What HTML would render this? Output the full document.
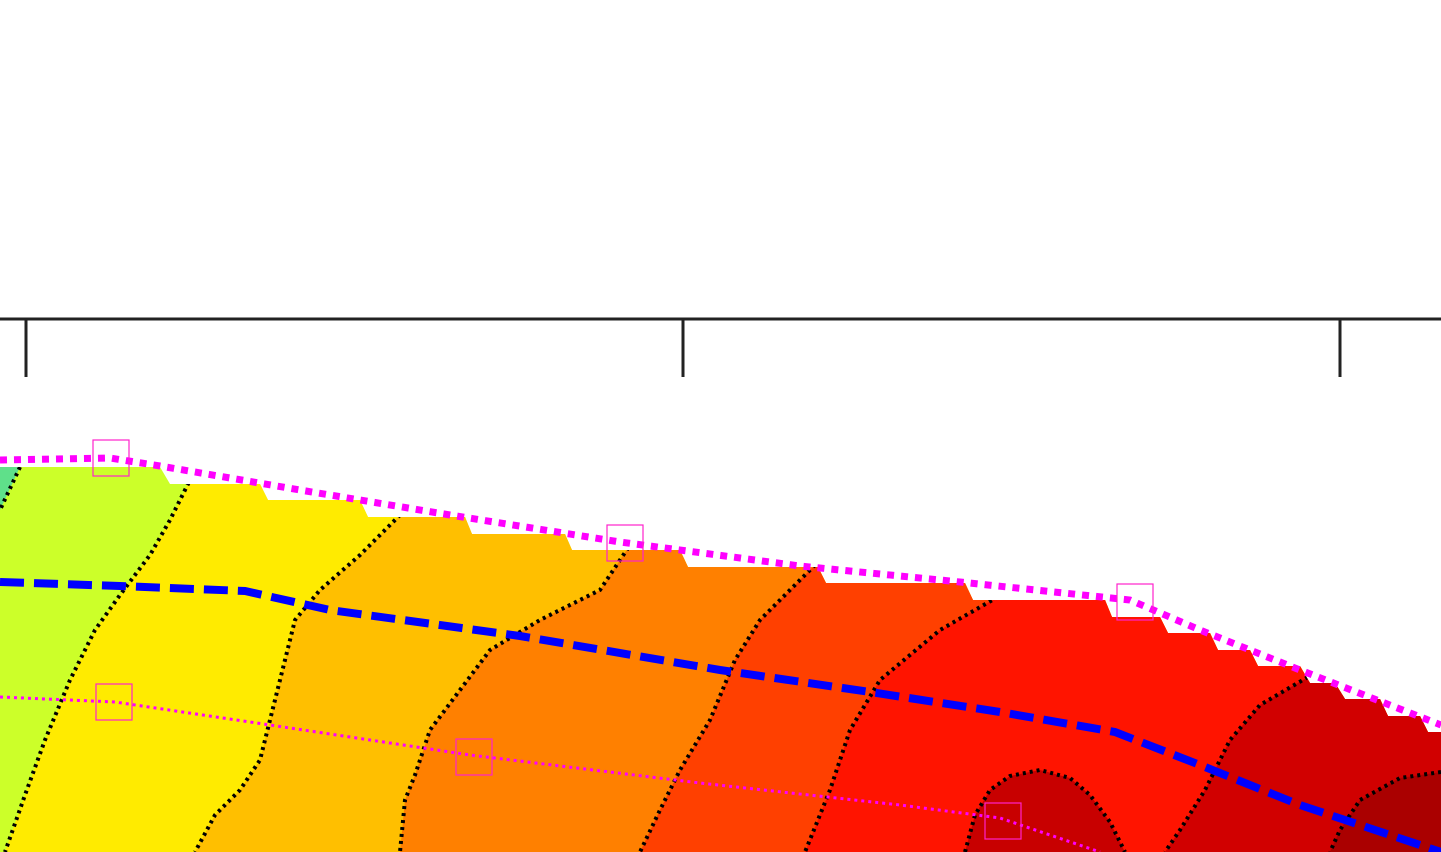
<!DOCTYPE html>
<html><head><meta charset="utf-8"><style>html,body{margin:0;padding:0;background:#fff;width:1441px;height:852px;overflow:hidden}</style></head>
<body>
<svg id="chart" width="1441" height="852" viewBox="0 0 1441 852" xmlns="http://www.w3.org/2000/svg">
<defs><clipPath id="clipTop"><polygon id="topPoly"/></clipPath></defs>
<line x1="0" y1="319" x2="1441" y2="319" stroke="#222" stroke-width="3"/>
<g id="ticks"></g>
<g id="bands" clip-path="url(#clipTop)"></g>
<g id="clines" clip-path="url(#clipTop)"></g>
<g id="lines"></g>
</svg>
<script>
const tickX=[26,683,1340];
const topEdge=[[0,467],[160,467],[170,484],[260,484],[268,500],[360,500],[368,517],[465,517],[472,534],[565,534],[572,550],[680,550],[688,567],[818,567],[826,583],[965,583],[973,600],[1105,600],[1112,617],[1160,617],[1168,633],[1210,633],[1218,650],[1250,650],[1258,666],[1300,666],[1310,683],[1335,683],[1345,699],[1380,699],[1388,716],[1420,716],[1428,732],[1441,732],[1441,852],[0,852]];
const bandColors=["#ccff29","#ffeb00","#ffbf00","#ff8000","#ff4000","#ff1400","#d10000","#aa0000"];
const contours=[
[[195,470],[170,520],[150,555],[120,595],[95,630],[70,680],[45,740],[25,795],[5,852]],
[[415,500],[360,555],[320,590],[295,620],[285,660],[270,720],[260,760],[240,790],[215,815],[195,852]],
[[640,530],[600,590],[540,620],[490,650],[460,690],[430,730],[415,775],[405,800],[400,852]],
[[830,550],[760,620],[735,660],[710,720],[680,770],[660,810],[640,852]],
[[1010,590],[940,630],[880,680],[850,730],[830,790],[805,852]],
[[1320,670],[1260,705],[1230,740],[1205,790],[1180,830],[1165,852]],
[[1441,772],[1400,778],[1360,800],[1340,830],[1330,852]]];
const bump=[[965,852],[975,815],[990,790],[1010,776],[1040,770],[1070,778],[1090,795],[1110,822],[1125,852]];
const blueLine=[[0,582],[120,586],[245,591],[330,610],[520,636],[720,670],[870,692],[1000,712],[1115,732],[1200,765],[1300,805],[1441,852]];
const magTop=[[0,460],[110,458],[160,466],[300,490],[450,515],[620,542],[800,566],[960,582],[1130,600],[1200,630],[1300,670],[1441,725]];
const magLow=[[0,697],[115,702],[250,722],[470,755],[700,783],[900,805],[1000,818],[1100,852]];
const markers=[[111,458],[114,702],[625,543],[474,757],[1135,602],[1003,821]];
const NS="http://www.w3.org/2000/svg";
const pts=a=>a.map(p=>p.join(",")).join(" ");
document.getElementById("topPoly").setAttribute("points",pts(topEdge));
const tk=document.getElementById("ticks");
tickX.forEach(x=>{const l=document.createElementNS(NS,"line");


l.setAttribute("x1",x);l.setAttribute("x2",x);l.setAttribute("y1",319);l.setAttribute("y2",377);l.setAttribute("stroke","#222");l.setAttribute("stroke-width",3);tk.appendChild(l);});
const bands=document.getElementById("bands");
function poly(p,fill,name){const e=document.createElementNS(NS,"polygon");


e.setAttribute("points",pts(p));e.setAttribute("fill",fill);bands.appendChild(e);}
poly([[0,0],[30,0],[30,460],[0,520]],"#5fe08a","band-0");
poly([[20,0],[20,467],[0,510],[0,852],[1441,852],[1441,0]],bandColors[0],"band-1");
contours.forEach((c,i)=>{const p=c.slice();
if(i===contours.length-1){p.push([1441,852]);}else{p.push([1441,852],[1441,0],[c[0][0],0]);}
poly(p,bandColors[i+1],"band-"+(i+2));});
poly(bump,"#c80000","band-bump");
const lg=document.getElementById("lines");
const cl=document.getElementById("clines");
function line(p,stroke,w,dash,name,parent){const e=document.createElementNS(NS,"polyline");


e.setAttribute("points",pts(p));e.setAttribute("fill","none");e.setAttribute("stroke",stroke);e.setAttribute("stroke-width",w);if(dash)e.setAttribute("stroke-dasharray",dash);(parent||lg).appendChild(e);}
line([[20,467],[0,510]],"#000",4,"3 4","contour-line",cl);
contours.forEach(c=>line(c,"#000",4,"3 4","contour-line",cl));
line(bump,"#000",4,"3 4","contour-line",cl);
line(blueLine,"#0000ff",8,"24 10","blue-dashed-line");
line(magTop,"#ff00ff",7,"7 7","magenta-top-line");
line(magLow,"#ff00ff",3,"3 4","magenta-lower-line");
markers.forEach(m=>{const r=document.createElementNS(NS,"rect");


r.setAttribute("x",m[0]-18);r.setAttribute("y",m[1]-18);r.setAttribute("width",36);r.setAttribute("height",36);r.setAttribute("fill","none");r.setAttribute("stroke","#ff22cc");r.setAttribute("stroke-width",1.2);lg.appendChild(r);});
</script>
</body></html>
